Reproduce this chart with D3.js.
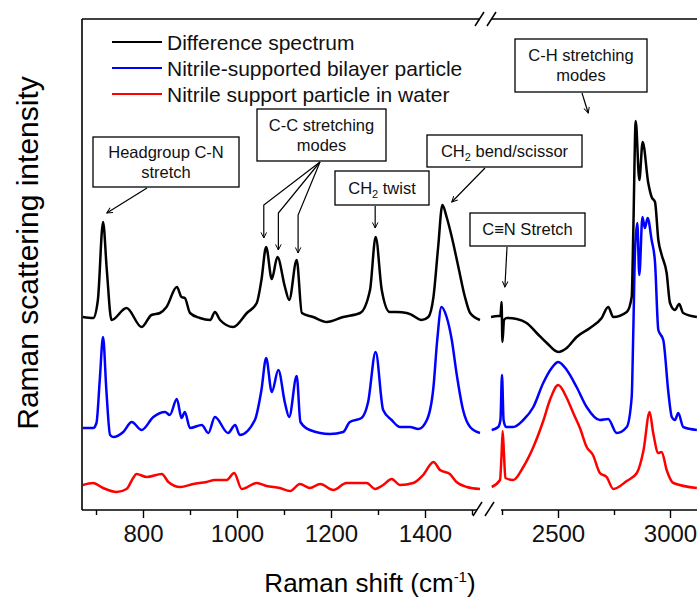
<!DOCTYPE html>
<html lang="en">
<head>
    <meta charset="UTF-8"/>
    <title>Raman spectra</title>
    <script src="https://d3js.org/d3.v7.min.js"></script>
    <style>
        body { margin: 0; background: #fff; }
        text { font-family: Arial, "Liberation Sans", sans-serif; }
    </style>
</head>
<body>
<div id="chart"></div>

<script>
    // spectra: [Raman shift (cm-1), intensity (a.u.)]
    const diffLeft = [[672,193],[694,192],[704,210],[715,288],[723,240],[733,190],[765,202],[797,183],[818,195],[836,197],
        [850,203],[872,223],[882,213],[889,212],[900,197],[921,192],[943,190],[953,198],[964,190],[992,183],[1021,197],
        [1042,207],[1052,230],[1062,263],[1074,231],[1086,253],[1102,223],[1111,210],[1127,250],[1138,197],[1162,193],
        [1191,188],[1226,193],[1262,197],[1283,220],[1295,273],[1308,220],[1325,198],[1340,198],[1361,197],[1372,195],
        [1393,190],[1407,193],[1418,213],[1428,263],[1437,305],[1446,293],[1457,273],[1471,243],[1485,213],[1496,197],[1517,190]];
    const diffRight = [[2201,193],[2233,194],[2243,194],[2248,208],[2252,168],[2259,190],[2271,192],[2316,191],[2360,187],
        [2405,177],[2450,167],[2501,158],[2539,162],[2583,173],[2643,182],[2695,192],[2724,203],[2747,193],[2807,198],
        [2829,213],[2836,277],[2847,389],[2863,330],[2878,368],[2903,327],[2918,313],[2933,308],[2948,270],[2963,255],
        [2985,237],[3000,207],[3022,200],[3041,206],[3059,197],[3120,193]];

    const bilayerLeft = [[672,82],[694,82],[701,87],[708,130],[715,173],[722,120],[730,75],[737,73],[758,78],[776,88],
        [797,80],[822,93],[847,98],[857,95],[872,111],[882,92],[889,98],[900,82],[925,85],[939,77],[953,93],[981,77],
        [996,85],[1006,75],[1038,90],[1052,120],[1062,152],[1074,118],[1088,140],[1102,107],[1111,93],[1127,134],
        [1135,88],[1155,80],[1198,76],[1226,78],[1240,88],[1265,92],[1279,108],[1295,158],[1311,100],[1329,90],[1347,83],
        [1368,83],[1386,81],[1404,90],[1418,123],[1426,170],[1435,203],[1446,193],[1457,170],[1467,137],[1481,100],
        [1496,83],[1517,77]];
    const bilayerRight = [[2204,80],[2233,83],[2243,90],[2250,135],[2257,90],[2268,83],[2300,83],[2345,90],[2390,103],
        [2434,127],[2472,142],[2501,148],[2539,140],[2583,123],[2628,103],[2687,90],[2724,91],[2762,77],[2807,83],
        [2829,113],[2836,177],[2844,260],[2854,287],[2863,235],[2877,293],[2888,282],[2900,292],[2918,270],[2933,248],
        [2948,180],[2970,170],[2993,117],[3008,93],[3022,90],[3037,97],[3059,83],[3120,80]];

    const supportLeft = [[672,25],[694,27],[715,22],[744,18],[765,21],[779,32],[786,36],[808,33],[840,36],[854,28],
        [879,23],[907,26],[935,28],[953,30],[978,30],[994,37],[1010,21],[1042,27],[1063,24],[1091,22],[1113,19],
        [1134,26],[1155,22],[1177,26],[1205,20],[1233,27],[1255,27],[1276,27],[1294,21],[1311,25],[1329,31],[1347,25],
        [1375,27],[1396,35],[1418,48],[1432,40],[1453,36],[1467,28],[1489,23],[1517,21]];
    const supportRight = [[2204,23],[2241,30],[2248,55],[2253,79],[2259,55],[2265,32],[2300,30],[2345,43],[2390,63],
        [2434,89],[2464,110],[2501,125],[2539,112],[2568,97],[2598,82],[2628,63],[2656,55],[2687,37],[2717,33],
        [2747,21],[2807,29],[2852,37],[2882,60],[2909,98],[2925,77],[2948,57],[2963,58],[2985,40],[3015,27],[3120,22]];

    const seriesNames = ["Difference spectrum", "Nitrile-supported bilayer particle", "Nitrile support particle in water"];
    const seriesColors = ["#000000", "#0000ff", "#ff0000"];

    const majorLeft = [800, 1000, 1200, 1400];
    const minorLeft = [700, 900, 1100, 1300, 1500];
    const majorRight = [2500, 3000];
    const minorRight = [2250, 2750];

    const width = 697, height = 602;
    const plotLeft = 82, plotTop = 19, plotBottom = 510;

    const svg = d3.select("#chart")
        .append("svg")
        .attr("width", width)
        .attr("height", height);

    // two pieces of the broken x axis
    const xL = d3.scaleLinear().domain([700, 1500]).range([96, 472]);
    const xR = d3.scaleLinear().domain([2250, 3000]).range([502, 670]);
    const y = d3.scaleLinear().domain([0, 490]).range([plotBottom, plotTop + 1]);

    const defs = svg.append("defs");
    defs.append("clipPath").attr("id", "clipL")
        .append("rect").attr("x", plotLeft).attr("y", plotTop).attr("width", 400).attr("height", plotBottom - plotTop);
    defs.append("clipPath").attr("id", "clipR")
        .append("rect").attr("x", 488).attr("y", plotTop).attr("width", width - 488).attr("height", plotBottom - plotTop);
    defs.append("marker")
        .attr("id", "arrow")
        .attr("viewBox", "0 0 10 10")
        .attr("refX", 9).attr("refY", 5)
        .attr("markerWidth", 7).attr("markerHeight", 7)
        .attr("markerUnits", "userSpaceOnUse")
        .attr("orient", "auto")
        .append("path")
        .attr("d", "M1,1 L9,5 L1,9")
        .attr("fill", "none")
        .attr("stroke", "#000")
        .attr("stroke-width", 1.4);

    // spectra
    const lineL = d3.line().x(d => xL(d[0])).y(d => y(d[1])).curve(d3.curveMonotoneX);
    const lineR = d3.line().x(d => xR(d[0])).y(d => y(d[1])).curve(d3.curveMonotoneX);
    const spectra = [[diffLeft, diffRight], [bilayerLeft, bilayerRight], [supportLeft, supportRight]];
    spectra.slice().reverse().forEach((pair, i) => {
        const color = seriesColors[2 - i];
        svg.append("path").attr("d", lineL(pair[0])).attr("clip-path", "url(#clipL)")
            .attr("fill", "none").attr("stroke", color).attr("stroke-width", 2.5).attr("stroke-linejoin", "round");
        svg.append("path").attr("d", lineR(pair[1])).attr("clip-path", "url(#clipR)")
            .attr("fill", "none").attr("stroke", color).attr("stroke-width", 2.5).attr("stroke-linejoin", "round");
    });

    // frame
    const frame = svg.append("g").attr("stroke", "#000").attr("stroke-width", 1.6).attr("fill", "none");
    frame.append("line").attr("x1", plotLeft).attr("x2", plotLeft).attr("y1", plotTop).attr("y2", plotBottom);
    frame.append("line").attr("x1", plotLeft).attr("x2", 479).attr("y1", plotTop).attr("y2", plotTop);
    frame.append("line").attr("x1", 492).attr("x2", width).attr("y1", plotTop).attr("y2", plotTop);

    // x axes
    function drawAxis(scale, r, major, minor) {
        const g = svg.append("g").attr("transform", `translate(0, ${plotBottom})`);
        g.call(d3.axisBottom(scale).tickValues(major).tickSize(8).tickSizeOuter(0).tickFormat(d3.format("d")))
            .call(a => a.select(".domain").attr("d", `M${r[0]},0H${r[1]}`).attr("stroke-width", 1.6))
            .call(a => a.selectAll(".tick line").attr("stroke-width", 1.4))
            .call(a => a.selectAll(".tick text").attr("y", 15)
                .style("font-size", "24px").attr("fill", "#111"));
        g.append("g").call(d3.axisBottom(scale).tickValues(minor).tickSize(5).tickFormat(""))
            .call(a => a.select(".domain").remove())
            .call(a => a.selectAll(".tick line").attr("stroke-width", 1.4));
    }
    drawAxis(xL, [plotLeft, 477], majorLeft, minorLeft);
    drawAxis(xR, [501, width], majorRight, minorRight);

    // break marks
    const brk = svg.append("g").attr("stroke", "#000").attr("stroke-width", 1.5);
    [[473, 482], [485, 494]].forEach(p => {
        brk.append("line").attr("x1", p[0]).attr("y1", plotBottom + 6).attr("x2", p[1]).attr("y2", plotBottom - 8);
        brk.append("line").attr("x1", p[0] + 2).attr("y1", plotTop + 7).attr("x2", p[1] + 2).attr("y2", plotTop - 7);
    });

    // axis titles
    svg.append("text")
        .attr("transform", `translate(38, 253) rotate(-90)`)
        .attr("text-anchor", "middle")
        .style("font-size", "30px")
        .text("Raman scattering intensity");

    const xt = svg.append("text")
        .attr("x", 370).attr("y", 592)
        .attr("text-anchor", "middle")
        .style("font-size", "26px");
    xt.append("tspan").text("Raman shift (cm");
    xt.append("tspan").attr("dy", -10).style("font-size", "15px").text("-1");
    xt.append("tspan").attr("dy", 10).text(")");

    // legend
    const legend = svg.append("g");
    seriesNames.forEach((name, i) => {
        const ly = 42 + i * 26;
        legend.append("line").attr("x1", 112).attr("x2", 162).attr("y1", ly).attr("y2", ly)
            .attr("stroke", seriesColors[i]).attr("stroke-width", 2);
        legend.append("text").attr("x", 167).attr("y", ly + 7.5)
            .style("font-size", "21px").attr("fill", "#111").text(name);
    });

    // annotation boxes
    function box(x, yTop, w, h, lines) {
        const g = svg.append("g");
        g.append("rect").attr("x", x).attr("y", yTop).attr("width", w).attr("height", h)
            .attr("fill", "#fff").attr("stroke", "#000").attr("stroke-width", 1.3);
        lines.forEach((ln, i) => {
            const t = g.append("text").attr("x", x + w / 2)
                .attr("y", yTop + h / 2 + 5.5 + (i - (lines.length - 1) / 2) * 20)
                .attr("text-anchor", "middle").style("font-size", "16.5px").attr("fill", "#111");
            ln.forEach(part => {
                if (part.sub) {
                    t.append("tspan").attr("dy", 4).style("font-size", "11px").text(part.sub);
                    t.append("tspan").attr("dy", -4).text(part.t || "");
                } else {
                    t.append("tspan").text(part.t);
                }
            });
        });
    }
    box(93, 137, 146, 50, [[{t: "Headgroup C-N"}], [{t: "stretch"}]]);
    box(257, 109, 129, 52, [[{t: "C-C stretching"}], [{t: "modes"}]]);
    box(335, 171, 94, 34, [[{t: "CH"}, {sub: "2", t: " twist"}]]);
    box(427, 135, 155, 32, [[{t: "CH"}, {sub: "2", t: " bend/scissor"}]]);
    box(515, 39, 132, 53, [[{t: "C-H stretching"}], [{t: "modes"}]]);
    box(470, 213, 115, 33, [[{t: "C\u2261N Stretch"}]]);

    // arrows, tips placed on the spectra through the scales
    function arrow(points) {
        svg.append("path")
            .attr("d", d3.line()(points))
            .attr("fill", "none").attr("stroke", "#000").attr("stroke-width", 1.2)
            .attr("marker-end", "url(#arrow)");
    }
    arrow([[147, 188], [xL(723), y(297)]]);
    arrow([[320, 162], [xL(1057), y(305)], [xL(1057), y(272)]]);
    arrow([[320, 162], [xL(1088), y(297)], [xL(1088), y(260)]]);
    arrow([[320, 162], [xL(1130), y(295)], [xL(1130), y(257)]]);
    arrow([[xL(1294), 206], [xL(1294), y(282)]]);
    arrow([[485, 168], [xL(1457), y(308)]]);
    arrow([[507, 247], [xR(2263), y(223)]]);
    arrow([[582, 93], [xR(2635), y(397)]]);
</script>
</body>
</html>
